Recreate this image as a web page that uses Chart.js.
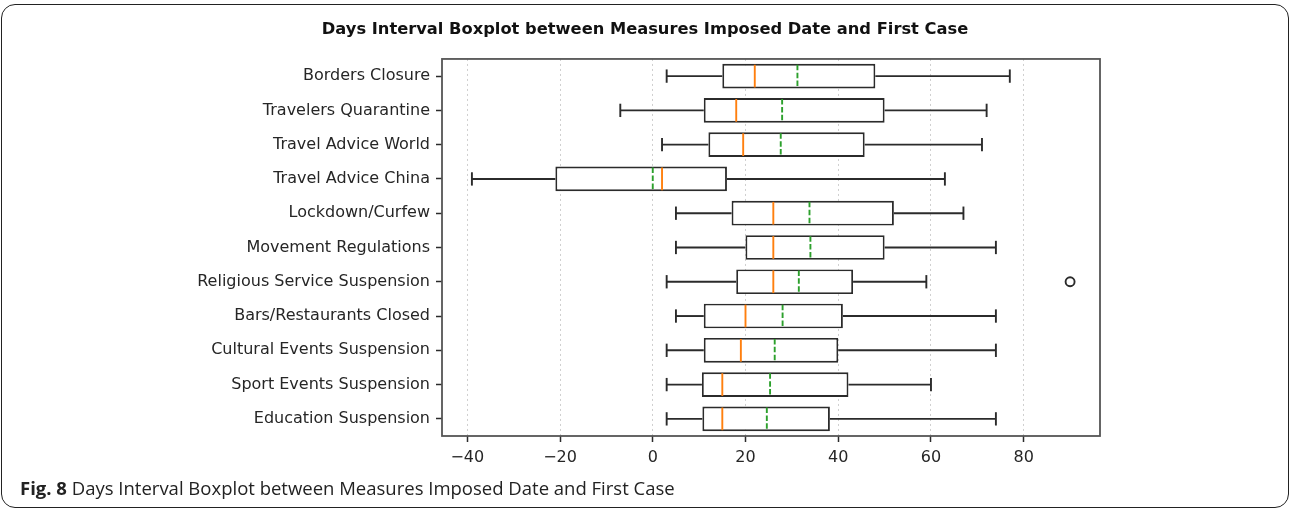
<!DOCTYPE html>
<html>
<head>
<meta charset="utf-8">
<title>Days Interval Boxplot</title>
<script src="https://cdn.jsdelivr.net/npm/chart.js@4/dist/chart.umd.min.js"></script>
<style>
  html, body { margin: 0; padding: 0; background: #fff; }
  #wrap { position: relative; width: 1290px; height: 510px; overflow: hidden; }
  #frame {
    position: absolute; left: 1px; top: 4px; right: 1px; bottom: 2px;
    border: 1.5px solid #222; border-radius: 14px;
  }
  #chart { position: absolute; left: 0; top: 0; }
  #caption {
    position: absolute; left: 20px; top: 475px;
    font-family: "Open Sans", sans-serif; font-size: 18.5px; color: #222;
    white-space: nowrap;
  }
  #caption b { font-weight: 700; }
</style>
</head>
<body>
<div id="wrap">
  <div id="frame"></div>
  <canvas id="chart" width="1290" height="510"></canvas>
  <div id="caption"><b>Fig. 8</b> Days Interval Boxplot between Measures Imposed Date and First Case</div>
</div>
<script>
const categories = [
  "Borders Closure",
  "Travelers Quarantine",
  "Travel Advice World",
  "Travel Advice China",
  "Lockdown/Curfew",
  "Movement Regulations",
  "Religious Service Suspension",
  "Bars/Restaurants Closed",
  "Cultural Events Suspension",
  "Sport Events Suspension",
  "Education Suspension"
];
const whiskerLow  = [3, -7, 2, -39, 5, 5, 3, 5, 3, 3, 3];
const q1          = [15, 11, 12, -21, 17, 20, 18, 11, 11, 10.6, 10.7];
const medians     = [22, 18, 19.5, 2, 26, 26, 26, 20, 19, 15, 15];
const means       = [31.2, 27.9, 27.6, 0, 33.8, 34, 31.5, 28, 26.3, 25.3, 24.6];
const q3          = [48, 50, 45.7, 16, 52, 50, 43.2, 41, 40, 42.2, 38.2];
const whiskerHigh = [77, 72, 71, 63, 67, 74, 59, 74, 74, 60, 74];
const outliers    = [[], [], [], [], [], [], [90], [], [], [], []];
const xTicks = [-40, -20, 0, 20, 40, 60, 80];

const FONT = "'DejaVu Sans', sans-serif";
const LINE = "#2b2b2b";
const MEDIAN = "#ff7f0e";
const MEAN = "#2ca02c";
const LW = 1.9;

// whiskers, caps, median and mean lines on top of the boxes
const boxExtras = {
  id: "boxExtras",
  afterDatasetsDraw(chart) {
    const { ctx, scales: { x, y } } = chart;
    const boxes = chart.getDatasetMeta(0).data;
    ctx.save();
    categories.forEach((c, i) => {
      const cy = y.getPixelForValue(i);
      const h = boxes[i].height;
      const cap = h * 0.27;
      const seg = (x1, y1, x2, y2) => {
        ctx.beginPath(); ctx.moveTo(x1, y1); ctx.lineTo(x2, y2); ctx.stroke();
      };
      ctx.strokeStyle = LINE;
      ctx.lineWidth = LW;
      ctx.setLineDash([]);
      const lo = x.getPixelForValue(whiskerLow[i]);
      const hi = x.getPixelForValue(whiskerHigh[i]);
      seg(lo, cy, x.getPixelForValue(q1[i]), cy);
      seg(x.getPixelForValue(q3[i]), cy, hi, cy);
      seg(lo, cy - cap, lo, cy + cap);
      seg(hi, cy - cap, hi, cy + cap);

      ctx.strokeStyle = MEDIAN;
      const mx = x.getPixelForValue(medians[i]);
      seg(mx, cy - h / 2 + 1, mx, cy + h / 2 - 1);

      ctx.strokeStyle = MEAN;
      ctx.setLineDash([5.5, 2.4]);
      const ax = x.getPixelForValue(means[i]);
      seg(ax, cy - h / 2 + 1, ax, cy + h / 2 - 1);
    });
    ctx.restore();
  },
  afterDraw(chart) {
    const a = chart.chartArea;
    const ctx = chart.ctx;
    ctx.save();
    ctx.strokeStyle = "#555";
    ctx.lineWidth = 1.8;
    ctx.strokeRect(a.left, a.top, a.right - a.left, a.bottom - a.top);
    ctx.restore();
  }
};

const outlierPoints = [];
outliers.forEach((list, i) => list.forEach(v => outlierPoints.push({ x: v, y: categories[i] })));

new Chart(document.getElementById("chart"), {
  type: "bar",
  data: {
    labels: categories,
    datasets: [
      {
        data: categories.map((c, i) => [q1[i], q3[i]]),
        backgroundColor: "#ffffff",
        borderColor: LINE,
        borderWidth: LW,
        borderSkipped: false,
        barPercentage: 0.72,
        categoryPercentage: 1
      },
      {
        type: "scatter",
        data: outlierPoints,
        pointStyle: "circle",
        pointRadius: 4.5,
        pointBackgroundColor: "#ffffff",
        pointBorderColor: LINE,
        pointBorderWidth: LW
      }
    ]
  },
  options: {
    indexAxis: "y",
    responsive: false,
    animation: false,
    layout: { padding: 0 },
    plugins: {
      legend: { display: false },
      tooltip: { enabled: false },
      title: {
        display: true,
        text: "Days Interval Boxplot between Measures Imposed Date and First Case",
        color: "#111",
        font: { family: FONT, size: 16.3, weight: "bold" },
        padding: { top: 20, bottom: 19.4 }
      }
    },
    scales: {
      x: {
        type: "linear",
        min: -45.45,
        max: 96.45,
        afterBuildTicks: s => { s.ticks = xTicks.map(v => ({ value: v })); },
        afterFit: s => { s.height = 74; },
        ticks: {
          color: "#262626",
          font: { family: FONT, size: 16 },
          padding: 6,
          maxRotation: 0,
          callback: v => (v < 0 ? "\u2212" + Math.abs(v) : String(v))
        },
        grid: {
          color: "#cfcfcf",
          lineWidth: 1,
          tickColor: LINE,
          tickWidth: 1.5,
          tickLength: 6
        },
        border: { display: false, dash: [2, 3] }
      },
      y: {
        type: "category",
        afterFit: s => { s.width = 442; },
        ticks: {
          color: "#262626",
          font: { family: FONT, size: 16 },
          padding: 6
        },
        grid: {
          offset: false,
          drawOnChartArea: false,
          tickColor: LINE,
          tickWidth: 1.5,
          tickLength: 6
        },
        border: { display: false }
      },
      y2: {
        type: "category",
        position: "right",
        labels: categories,
        afterFit: s => { s.width = 190; },
        ticks: { display: false },
        grid: { display: false },
        border: { display: false }
      }
    }
  },
  plugins: [boxExtras]
});
</script>
</body>
</html>
